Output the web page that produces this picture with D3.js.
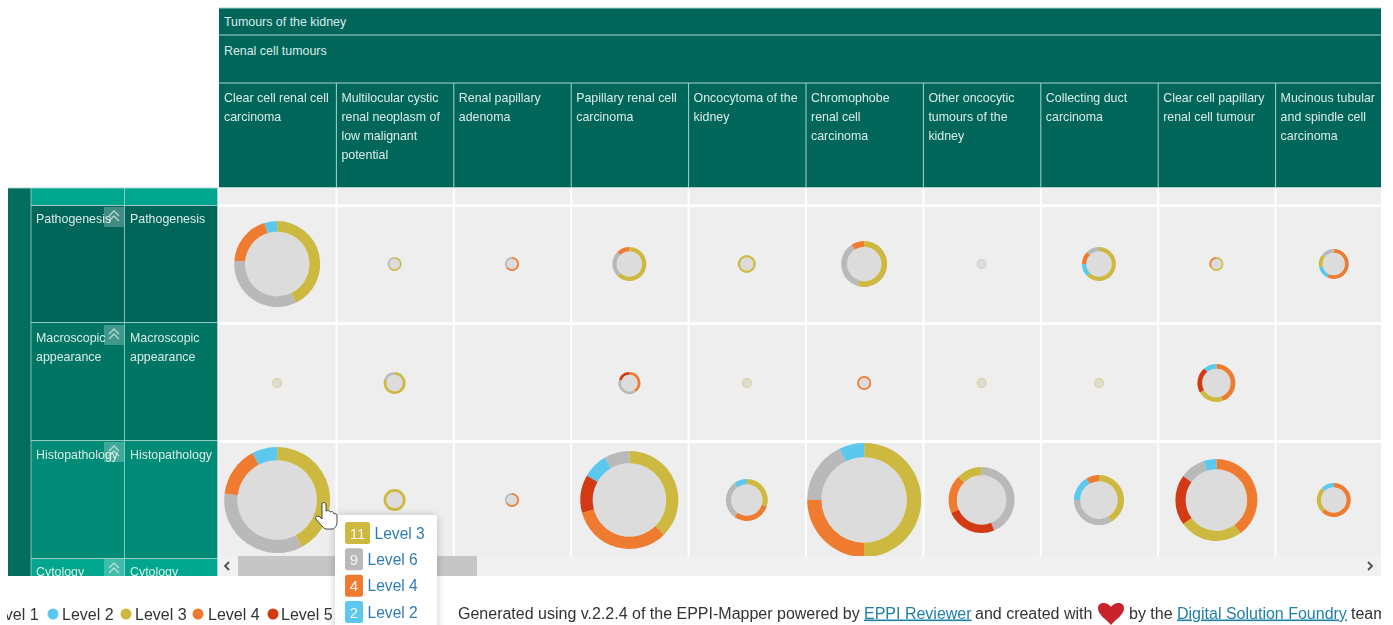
<!DOCTYPE html>
<html>
<head>
<meta charset="utf-8">
<script src="https://cdn.jsdelivr.net/npm/d3@7"></script>
<style>
html,body{margin:0;padding:0;background:#fff;overflow:hidden}
svg{display:block;filter:blur(0.5px)}
text{font-family:"Liberation Sans",Arial,sans-serif}
</style>
</head>
<body>
<svg id="c" width="1393" height="625"></svg>
<script>
const topHeader = "Tumours of the kidney";
const subHeader = "Renal cell tumours";
const columnLabels = [
  ["Clear cell renal cell","carcinoma"],
  ["Multilocular cystic","renal neoplasm of","low malignant","potential"],
  ["Renal papillary","adenoma"],
  ["Papillary renal cell","carcinoma"],
  ["Oncocytoma of the","kidney"],
  ["Chromophobe","renal cell","carcinoma"],
  ["Other oncocytic","tumours of the","kidney"],
  ["Collecting duct","carcinoma"],
  ["Clear cell papillary","renal cell tumour"],
  ["Mucinous tubular","and spindle cell","carcinoma"]
];
const rowLabels = [
  ["Pathogenesis"],
  ["Macroscopic","appearance"],
  ["Histopathology"]
];
const levelNames = ["Level 1","Level 2","Level 3","Level 4","Level 5","Level 6"];
const levelColors = {1:"#8a8a8a",2:"#5cc8ee",3:"#cdb93f",4:"#ee7b30",5:"#d13a12",6:"#b9b9b9"};
// each cell: ordered [level, count] pairs, clockwise from 12 o'clock
const pathogenesisCounts = [
  [[3,9],[6,7],[4,4],[2,1]], [[3,2],[6,1]], [[4,2],[6,1]], [[3,5],[6,2],[4,1]], [[3,4]],
  [[3,6],[6,4],[4,1]], [[6,2]], [[3,5],[2,1],[4,1],[6,1]], [[3,2],[4,1]], [[4,4],[2,1],[3,1],[6,1]]
];
const macroscopicCounts = [
  [[3,2]], [[3,4],[6,1]], [], [[4,2],[6,2],[5,1]], [[3,2]],
  [[4,3]], [[3,2]], [[3,2]], [[4,4],[3,2],[5,2],[2,1]], []
];
const histopathologyCounts = [
  [[3,11],[6,9],[4,4],[2,2]], [[3,5]], [[4,2],[6,1]], [[3,9],[4,8],[5,3],[2,2],[6,2]], [[3,3],[4,3],[6,3],[2,1]],
  [[3,14],[4,7],[6,5],[2,2]], [[6,7],[5,4],[4,3],[3,2]], [[3,5],[6,4],[2,2],[4,1]], [[4,8],[3,5],[5,4],[6,2],[2,1]], [[4,5],[3,2],[2,1]]
];
const tooltipRows = [[3,11],[6,9],[4,4],[2,2]];
const legendLevels = [1,2,3,4,5];

const svg = d3.select("#c");
const W = 1381;
const defs = svg.append("defs");
defs.append("clipPath").attr("id","pg").append("rect").attr("x",0).attr("y",0).attr("width",W).attr("height",625);
defs.append("clipPath").attr("id","tbl").append("rect").attr("x",8).attr("y",0).attr("width",W-8).attr("height",576);
defs.append("clipPath").attr("id","leg").append("rect").attr("x",7).attr("y",590).attr("width",328).attr("height",35);
const sh = defs.append("filter").attr("id","shadow").attr("x","-20%").attr("y","-20%").attr("width","140%").attr("height","140%");
sh.append("feDropShadow").attr("dx",0).attr("dy",1).attr("stdDeviation",4).attr("flood-color","#000").attr("flood-opacity",0.22);

const root = svg.append("g").attr("clip-path","url(#pg)");
const table = root.append("g").attr("clip-path","url(#tbl)");

const x = d3.scaleBand().domain(d3.range(10)).range([219,1393]).paddingInner(0);
const rowCy = [264,383,500];
const r = d3.scaleLinear().domain([0,28]).range([1,57]);
const HEAD="#00665a", LINE="#a9d3cb", HTXT="#dcecE8";

// header
table.append("rect").attr("x",219).attr("y",8).attr("width",W-219).attr("height",180).attr("fill",HEAD);
table.append("g").selectAll("line").data([8,35,83,187.5]).join("line")
  .attr("x1",219).attr("x2",W).attr("y1",d=>d).attr("y2",d=>d).attr("stroke",LINE).attr("stroke-width",1);
table.append("text").attr("x",224).attr("y",26).attr("fill",HTXT).attr("font-size",12.4).text(topHeader);
table.append("text").attr("x",224).attr("y",55).attr("fill",HTXT).attr("font-size",12.4).text(subHeader);
const col = table.append("g").selectAll("g").data(columnLabels).join("g");
col.append("line").attr("x1",(d,i)=>x(i)).attr("x2",(d,i)=>x(i)).attr("y1",83).attr("y2",188)
   .attr("stroke",LINE).attr("opacity",(d,i)=>i?1:0);
col.selectAll("text").data((d,i)=>d.map((t,j)=>({t,j,i}))).join("text")
   .attr("x",d=>x(d.i)+5).attr("y",d=>102+d.j*19).attr("fill",HTXT).attr("font-size",12.4).text(d=>d.t);

// grey cell background
table.append("rect").attr("x",219).attr("y",188).attr("width",W-219).attr("height",368).attr("fill","#eeeeee");
table.append("rect").attr("x",219).attr("y",204.5).attr("width",W-219).attr("height",2.5).attr("fill","#fff");
table.append("g").selectAll("rect").data(d3.range(1,10)).join("rect")
  .attr("x",d=>x(d)-1).attr("y",188).attr("width",2).attr("height",368).attr("fill","#fff");
table.append("g").selectAll("rect").data([322,440]).join("rect")
  .attr("x",219).attr("y",d=>d).attr("width",W-219).attr("height",3).attr("fill","#fff");

// left panel
const bands = [
  {y:188,h:17,c:"#00a78e"},
  {y:205,h:117,c:"#00665a"},
  {y:322,h:118,c:"#007564"},
  {y:440,h:118,c:"#008b76"},
  {y:558,h:18,c:"#00a78e"}
];
table.append("rect").attr("x",8).attr("y",188).attr("width",23).attr("height",388).attr("fill","#006d5e");
table.append("g").selectAll("rect").data(bands).join("rect")
  .attr("x",31).attr("width",186.5).attr("y",d=>d.y).attr("height",d=>d.h).attr("fill",d=>d.c);
table.append("g").selectAll("line").data([31,124.5,217.5]).join("line")
  .attr("x1",d=>d).attr("x2",d=>d).attr("y1",188).attr("y2",576).attr("stroke",LINE).attr("stroke-width",.8);
table.append("g").selectAll("line").data([188,205.5,322.5,440.5,558.5]).join("line")
  .attr("x1",31).attr("x2",217.5).attr("y1",d=>d).attr("y2",d=>d).attr("stroke",LINE).attr("stroke-width",.9);
table.append("line").attr("x1",8).attr("x2",31).attr("y1",188).attr("y2",188).attr("stroke",LINE).attr("stroke-width",.9);

const labelRows = rowLabels.concat([["Cytology"]]);
const labelTop = [223,342,459,576];
[36,130].forEach(px=>{
  labelRows.forEach((lines,i)=>{
    lines.forEach((t,j)=>{
      table.append("text").attr("x",px).attr("y",labelTop[i]+j*19).attr("fill",HTXT).attr("font-size",12.4).text(t);
    });
  });
});
const chevTop = [207,325,442,559];
chevTop.forEach(y=>{
  table.append("rect").attr("x",104).attr("y",y).attr("width",20).attr("height",20).attr("fill","#fff").attr("opacity",.25);
  [0,5].forEach(o=>table.append("path").attr("d",d3.line()([[109,y+9+o],[114,y+4+o],[119,y+9+o]]))
    .attr("fill","none").attr("stroke","#d6e8e4").attr("stroke-width",1.3).attr("opacity",.8));
});

// rings
const pie = d3.pie().value(d=>d[1]).sort(null);
const arc = d3.arc();
const ringRows = [pathogenesisCounts,macroscopicCounts,histopathologyCounts];
ringRows.forEach((cells,ri)=>{
  cells.forEach((segs,ci)=>{
    if(!segs.length) return;
    const n = d3.sum(segs,d=>d[1]);
    const R = r(n), inner = R*0.75;
    const g = table.append("g").attr("transform",`translate(${x(ci)+x.bandwidth()/2-.5},${rowCy[ri]})`);
    g.append("circle").attr("r",inner).attr("fill","#dcdcdc");
    g.selectAll("path").data(pie(segs)).join("path")
      .attr("d",d=>arc({innerRadius:inner,outerRadius:R,startAngle:d.startAngle,endAngle:d.endAngle}))
      .attr("fill",d=>levelColors[d.data[0]])
      .attr("opacity",n<=2?0.55:1);
  });
});

// scrollbar
table.append("rect").attr("x",219).attr("y",556).attr("width",W-219).attr("height",20).attr("fill","#f1f1f1");
table.append("rect").attr("x",238).attr("y",556).attr("width",239).attr("height",20).attr("fill","#c6c6c6");
table.append("path").attr("d",d3.line()([[229,562],[225,566],[229,570]])).attr("fill","none").attr("stroke","#505050").attr("stroke-width",1.8);
table.append("path").attr("d",d3.line()([[1368,562],[1372,566],[1368,570]])).attr("fill","none").attr("stroke","#505050").attr("stroke-width",1.8);

// legend
const legendItems = [{l:1,cx:-22,tx:-13},{l:2,cx:53,tx:62},{l:3,cx:126,tx:135},{l:4,cx:198,tx:208},{l:5,cx:273,tx:281}];
const lg = root.append("g").attr("clip-path","url(#leg)");
legendItems.filter(d=>legendLevels.includes(d.l)).forEach(d=>{
  lg.append("circle").attr("cx",d.cx).attr("cy",614).attr("r",5.5).attr("fill",levelColors[d.l]);
  lg.append("text").attr("x",d.tx).attr("y",619.5).attr("font-size",16).attr("fill","#333").text(levelNames[d.l-1]);
});

// footer
const foot = root.append("g").attr("font-size",16).attr("fill","#333");
foot.append("text").attr("x",458).attr("y",618.5).text("Generated using v.2.2.4 of the EPPI-Mapper powered by");
foot.append("text").attr("x",864).attr("y",618.5).attr("fill","#1f7fa8").attr("text-decoration","underline").text("EPPI Reviewer");
foot.append("text").attr("x",975).attr("y",618.5).text("and created with");
foot.append("path").attr("transform","translate(1111,613)")
  .attr("d","M0,12 C-5,6 -13,2 -13,-5 C-13,-11 -4,-12 0,-6 C4,-12 13,-11 13,-5 C13,2 5,6 0,12Z").attr("fill","#c8222c");
foot.append("text").attr("x",1129).attr("y",618.5).text("by the");
foot.append("text").attr("x",1177).attr("y",618.5).attr("fill","#1f7fa8").attr("text-decoration","underline").text("Digital Solution Foundry");
foot.append("text").attr("x",1351).attr("y",618.5).text("team");

// tooltip
const tip = root.append("g");
tip.append("rect").attr("x",335).attr("y",515).attr("width",102).attr("height",125).attr("fill","#fff").attr("filter","url(#shadow)");
const tipY = d3.scalePoint().domain(d3.range(4)).range([533,612]);
tooltipRows.forEach((d,i)=>{
  const w = d[1]>9?25:18;
  tip.append("rect").attr("x",345).attr("y",tipY(i)-11).attr("width",w).attr("height",22).attr("rx",2.5).attr("fill",levelColors[d[0]]);
  tip.append("text").attr("x",345+w/2).attr("y",tipY(i)+5.5).attr("text-anchor","middle").attr("font-size",15).attr("fill","#f4f4f4").text(d[1]);
  tip.append("text").attr("x",345+w+4.5).attr("y",tipY(i)+5.5).attr("font-size",15.6).attr("fill","#2f7cb5").text(levelNames[d[0]-1]);
});

// hand cursor
root.append("path").attr("transform","translate(316,503)")
  .attr("d","M6,0 C8,-1 10,0 10,2 L10,8 C12,7 14,8 14,9 C16,8 18,9 18,11 C20,10 21,11 21,13 L21,19 C21,23 19,25 17,26 L9,26 C7,24 3,20 0,16 C-1,14 1,12 4,14 L6,16 Z")
  .attr("fill","#fff").attr("stroke","#333").attr("stroke-width",.9);
</script>
</body>
</html>
